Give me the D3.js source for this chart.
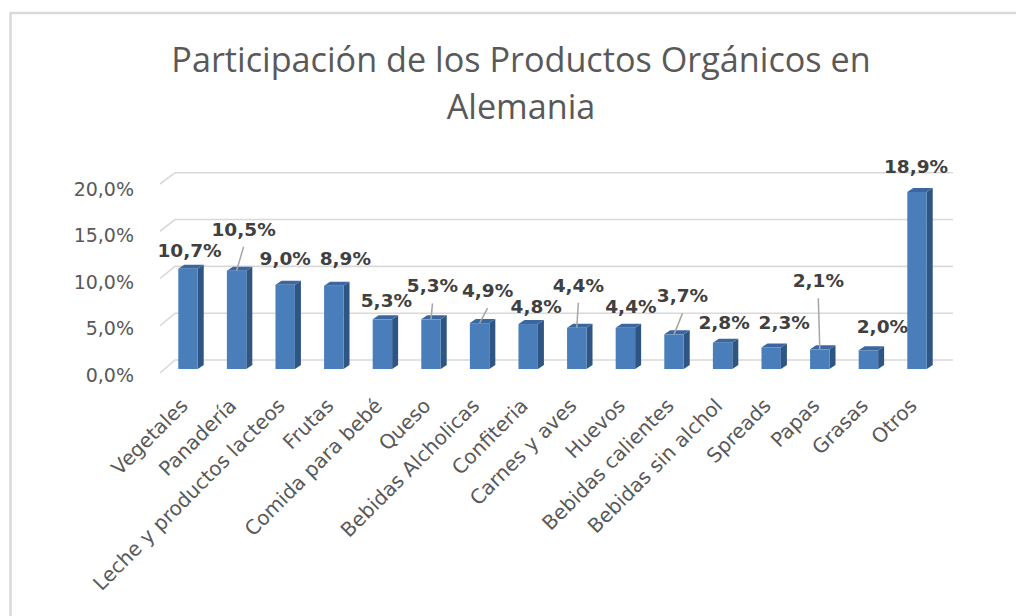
<!DOCTYPE html>
<html>
<head>
<meta charset="utf-8">
<script src="https://cdn.jsdelivr.net/npm/d3@7"></script>
<style>
  html, body { margin: 0; padding: 0; background: #ffffff; }
  svg { display: block; }
</style>
</head>
<body>
<svg id="chart" width="1016" height="616"></svg>
<script>
// ---- data ----
const titleLines = ["Participación de los Productos Orgánicos en", "Alemania"];
const categories = ["Vegetales", "Panadería", "Leche y productos lacteos", "Frutas", "Comida para bebé",
  "Queso", "Bebidas Alcholicas", "Confiteria", "Carnes y aves", "Huevos", "Bebidas calientes",
  "Bebidas sin alchol", "Spreads", "Papas", "Grasas", "Otros"];
const values = [0.107, 0.105, 0.090, 0.089, 0.053, 0.053, 0.049, 0.048, 0.044, 0.044, 0.037,
  0.028, 0.023, 0.021, 0.020, 0.189];
const yTicks = [0, 0.05, 0.10, 0.15, 0.20];

// ---- layout (label placement as in the original, offsets from bar top) ----
const labelShift = [[1.5,-12],[7,-35],[0,-20],[11.5,-21],[4,-12],[1.5,-27],[8,-26],[8,-11],
  [1.5,-36],[5.5,-15],[8.5,-32],[1.5,-14],[13,-18.5],[-1.5,-62],[14,-17],[-1,-19]];
const hasLeader = [0,1,0,0,0,1,1,0,1,0,1,0,0,1,0,0];

const locale = d3.formatLocale({decimal: ",", thousands: ".", grouping: [3], currency: ["", "€"]});
const fmt = locale.format(".1%");

const svg = d3.select("#chart");

// frame
svg.append("rect")
  .attr("x", 10.5).attr("y", 13).attr("width", 1100).attr("height", 700)
  .attr("fill", "#ffffff").attr("stroke", "#d9d9d9").attr("stroke-width", 2.5);

// title
svg.append("g").selectAll("text").data(titleLines).join("text")
  .attr("x", 521).attr("y", (d, i) => 72 + i * 47)
  .attr("text-anchor", "middle")
  .attr("font-family", "'Open Sans', sans-serif")
  .attr("font-size", 34.2)
  .attr("fill", "#595959")
  .text(d => d);

// scales
const x = d3.scaleBand().domain(categories).range([163.7, 941.3]).paddingInner(0.6).paddingOuter(0.3);
const y = d3.scaleLinear().domain([0, 0.2]).range([369, 181.7]);       // bar front plane
const yBack = d3.scaleLinear().domain([0, 0.2]).range([360, 172.7]);   // back wall
const yFront = d3.scaleLinear().domain([0, 0.2]).range([373, 184]);    // front edge of floor
const yLab = d3.scaleLinear().domain([0, 0.2]).range([375, 189]);      // axis labels

const depthX = 15;
const gridLeft = 160, gridRight = 953;

// gridlines (3D: diagonal side + back line)
const grid = svg.append("g").attr("stroke", "#d9d9d9").attr("stroke-width", 1.6).attr("fill", "none");
grid.selectAll("path").data(yTicks).join("path")
  .attr("d", d => `M${gridLeft},${yFront(d)}L${gridLeft + depthX},${yBack(d)}L${gridRight},${yBack(d)}`);

// y axis labels
const yAxis = d3.axisLeft(yLab).tickValues(yTicks).tickFormat(fmt).tickSize(0).tickPadding(0);
const gy = svg.append("g").attr("transform", "translate(134,0)").call(yAxis);
gy.select(".domain").remove();
gy.selectAll("text")
  .attr("font-family", "'DejaVu Sans', sans-serif")
  .attr("font-size", 19)
  .attr("fill", "#595959");

// bars (3D)
const bw = x.bandwidth();
const sideW = 6, topH = 4;
const bars = svg.append("g").selectAll("g").data(values).join("g");
bars.append("path") // side
  .attr("fill", "#2f5583")
  .attr("d", (d, i) => {
    const x1 = x(categories[i]) + bw;
    return `M${x1},${y(d)}L${x1 + sideW},${y(d) - topH}L${x1 + sideW},${y(0) - topH}L${x1},${y(0)}Z`;
  });
bars.append("path") // top
  .attr("fill", "#3a67a0")
  .attr("d", (d, i) => {
    const x0 = x(categories[i]);
    return `M${x0},${y(d)}L${x0 + sideW},${y(d) - topH}L${x0 + bw + sideW},${y(d) - topH}L${x0 + bw},${y(d)}Z`;
  });
bars.append("rect") // front
  .attr("fill", "#4a7ebb")
  .attr("x", (d, i) => x(categories[i]))
  .attr("y", d => y(d))
  .attr("width", bw)
  .attr("height", d => y(0) - y(d));

// category labels
const xAxis = d3.axisBottom(x).tickSize(0).tickPadding(0);
const gx = svg.append("g").attr("transform", "translate(0,407)").call(xAxis);
gx.select(".domain").remove();
gx.selectAll("text")
  .attr("font-family", "'DejaVu Sans', sans-serif")
  .attr("font-size", 20)
  .attr("fill", "#595959")
  .attr("text-anchor", "end")
  .attr("dy", 0)
  .attr("y", 0)
  .attr("transform", "translate(1,0) rotate(-45)");

// data labels + leader lines
const cx = i => x(categories[i]) + bw / 2;
const lab = svg.append("g");
lab.selectAll("line").data(values.map((v, i) => i).filter(i => hasLeader[i])).join("line")
  .attr("x1", i => cx(i) + labelShift[i][0])
  .attr("y1", i => y(values[i]) + labelShift[i][1] + 11)
  .attr("x2", i => cx(i))
  .attr("y2", i => y(values[i]))
  .attr("stroke", "#a6a6a6").attr("stroke-width", 1.5);
lab.selectAll("text").data(values).join("text")
  .attr("x", (d, i) => cx(i) + labelShift[i][0])
  .attr("y", (d, i) => y(d) + labelShift[i][1])
  .attr("text-anchor", "middle")
  .attr("font-family", "'DejaVu Sans', sans-serif")
  .attr("font-weight", "bold")
  .attr("font-size", 18.5)
  .attr("fill", "#404040")
  .text(d => fmt(d));
</script>
</body>
</html>
